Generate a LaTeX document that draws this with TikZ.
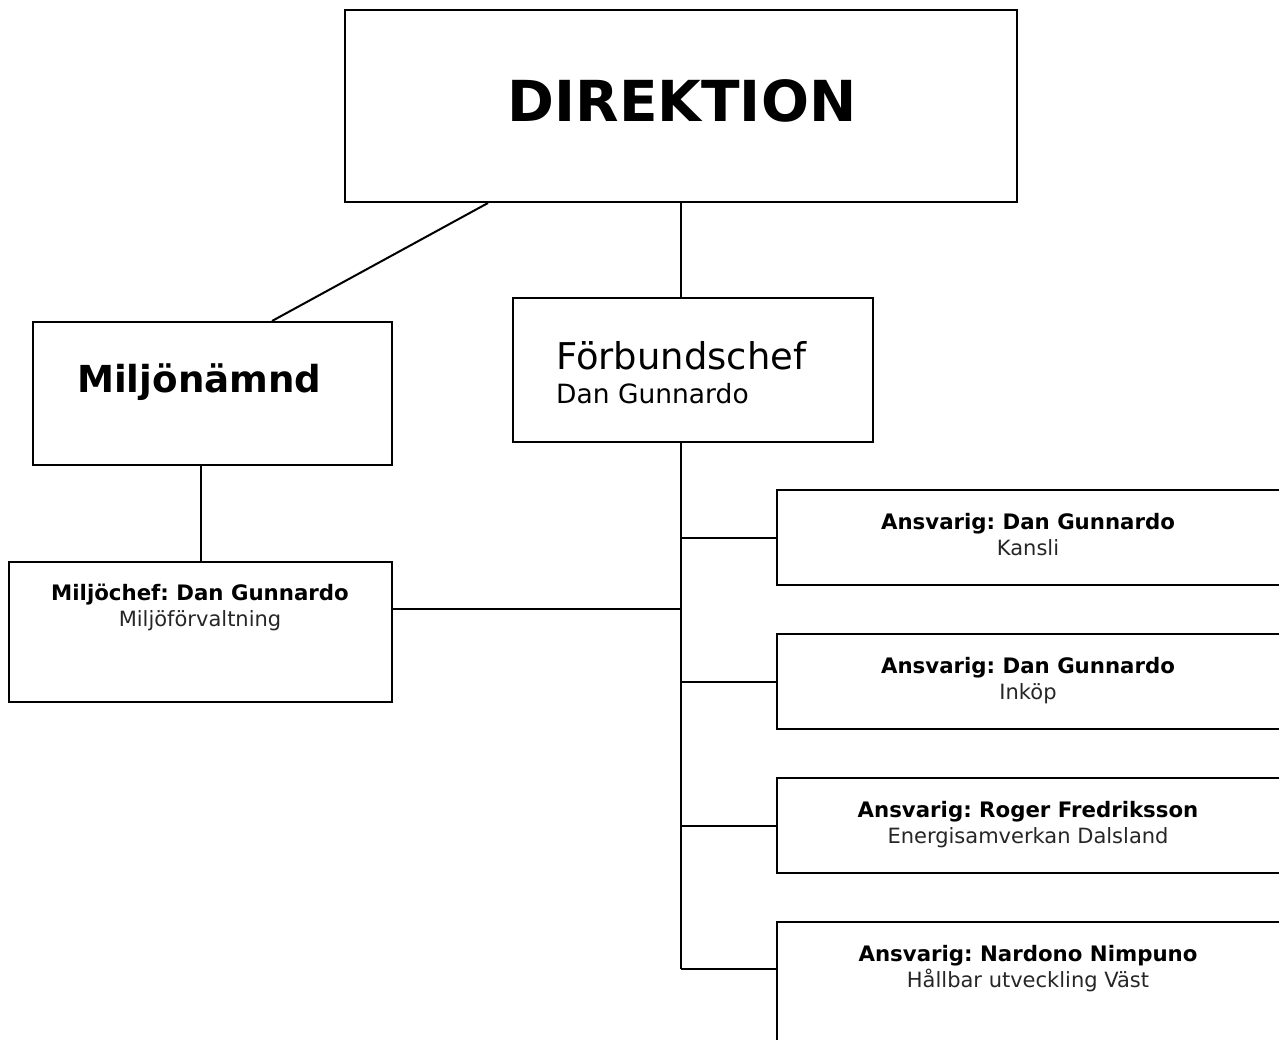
\documentclass[tikz,border=0pt]{standalone}
\usepackage{fontspec}
\setmainfont{DejaVu Sans}
\begin{document}
\frenchspacing
\begin{tikzpicture}[x=1pt,y=-1pt,
  box/.style={draw,line width=2pt,anchor=north west,inner sep=0pt,fill=white},
  conn/.style={line width=2pt},
  bold/.style={font=\bfseries\fontsize{21.3}{23}\selectfont,inner sep=0pt},
  sub/.style={font=\fontsize{21}{23}\selectfont,text=black!85,inner sep=0pt}]
\clip (0,0) rectangle (1279,1039);
\useasboundingbox (0,0) rectangle (1279,1039);
% boxes
\node[box,minimum width=672pt,minimum height=192pt] (dir) at (344,9) {};
\node[box,minimum width=359pt,minimum height=143pt] (mn) at (32,321) {};
\node[box,minimum width=360pt,minimum height=144pt] (fc) at (512,297) {};
\node[box,minimum width=383pt,minimum height=140pt] (mc) at (8,561) {};
\node[box,minimum width=600pt,minimum height=95pt] (r1) at (776,489) {};
\node[box,minimum width=600pt,minimum height=95pt] (r2) at (776,633) {};
\node[box,minimum width=600pt,minimum height=95pt] (r3) at (776,777) {};
\node[box,minimum width=600pt,minimum height=200pt] (r4) at (776,921) {};
% connectors
\draw[conn] ([xshift=144pt]dir.south west) -- ([xshift=240pt]mn.north west);
\draw[conn] (dir.south) -- (dir.south |- fc.north);
\draw[conn] (dir.south |- fc.south) -- (dir.south |- r4.north west) -- ++(0,48) coordinate (tend2);
\draw[conn] (tend2) -- (tend2 -| r4.west);
\draw[conn] (r1.west -| dir.south) -- (r1.west);
\draw[conn] (r2.west -| dir.south) -- (r2.west);
\draw[conn] (r3.west -| dir.south) -- (r3.west);
\draw[conn] (mc.north) -- (mc.north |- mn.south);
\draw[conn] ([yshift=23pt]mc.east) -- ([yshift=23pt]mc.east -| dir.south);
% texts
\node[font=\bfseries\fontsize{56.5}{60}\selectfont,inner sep=0pt] (tdir) at (682,101) {DIREKTION};
\node[font=\bfseries\fontsize{37.2}{40}\selectfont,inner sep=0pt,anchor=base west] (tmn) at (77,392) {Miljönämnd};
\node[font=\fontsize{36.9}{40}\selectfont,inner sep=0pt,anchor=base west] (tfc1) at (556,369) {Förbundschef};
\node[font=\fontsize{26.5}{28}\selectfont,inner sep=0pt,anchor=base west] (tfc2) at (556,403) {Dan Gunnardo};
\node[bold,anchor=base] (tmc1) at (200,600) {Miljöchef: Dan Gunnardo};
\node[sub,anchor=base] (tmc2) at (200,626) {Miljöförvaltning};
\node[bold,anchor=base] (t11) at (1028,529) {Ansvarig: Dan Gunnardo};
\node[sub,anchor=base] (t12) at (1028,555) {Kansli};
\node[bold,anchor=base] (t21) at (1028,673) {Ansvarig: Dan Gunnardo};
\node[sub,anchor=base] (t22) at (1028,699) {Inköp};
\node[bold,anchor=base] (t31) at (1028,817) {Ansvarig: Roger Fredriksson};
\node[sub,anchor=base] (t32) at (1028,843) {Energisamverkan Dalsland};
\node[bold,anchor=base] (t41) at (1028,961) {Ansvarig: Nardono Nimpuno};
\node[sub,anchor=base] (t42) at (1028,987) {Hållbar utveckling Väst};
\end{tikzpicture}
\end{document}
